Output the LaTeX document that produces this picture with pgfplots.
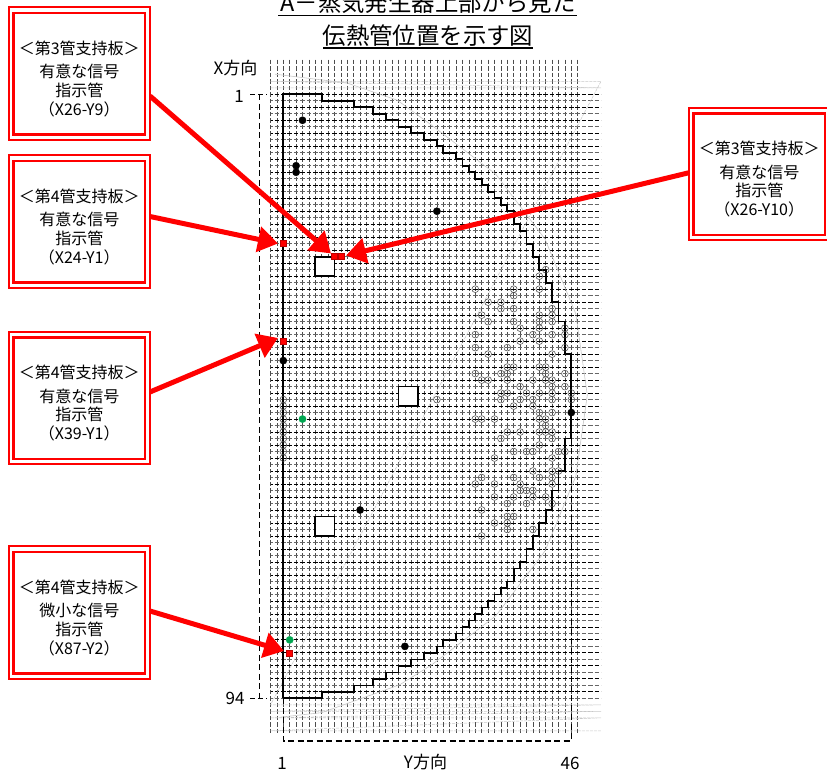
\documentclass[border=0pt]{standalone}
\usepackage{fontspec}
\usepackage{pgfplots}
\pgfplotsset{compat=1.18}
\usetikzlibrary{arrows.meta}
\setmainfont{Noto Sans CJK JP}
\definecolor{sigred}{HTML}{FF0000}
\definecolor{siggreen}{HTML}{00A651}

% box with the double red border, in picture pixels
\newcommand{\sgbox}[7]{%
  \draw[sigred,line width=2pt,fill=white] (#1,#3) rectangle (#2,#3+132.5);
  \draw[sigred,line width=2.6pt] (#1+5.2,#3+5.5) rectangle (#2-5.2,#3+127);
  \node[font=\fontsize{16}{16}\selectfont] at ({(#1+#2)/2},#3+40.5) {#4};
  \node[font=\fontsize{16}{16}\selectfont] at ({(#1+#2)/2},#3+64) {#5};
  \node[font=\fontsize{16}{16}\selectfont] at ({(#1+#2)/2},#3+82.5) {#6};
  \node[font=\fontsize{16}{16}\selectfont] at ({(#1+#2)/2},#3+101.5) {#7};
}

\begin{document}
\begin{tikzpicture}[x=1pt,y=1pt]
\useasboundingbox (0,0) rectangle (827,773);

\begin{axis}[
    at={(270.5pt,39pt)},
    anchor=south west,
    scale only axis,
    width=330.5pt,
    height=676pt,
    xmin=-1, xmax=50.64,
    ymin=-4.59, ymax=99.49,
    y dir=reverse,
    clip=false,
    axis line style={draw=none},
    tick style={draw=none},
    xticklabel=\empty,
    yticklabel=\empty,
    xtick={-1,0,...,47},
    ytick={1,3,...,93},
    minor ytick={2,4,...,94},
    grid=both,
    major x grid style={black!70,line width=0.8pt,dash pattern=on 4.5pt off 1.995pt,dash phase=4.9pt},
    major y grid style={black,line width=0.8pt,dash pattern=on 4.6pt off 1.8pt,dash phase=2.3pt},
    minor y grid style={black!60,line width=0.7pt,dash pattern=on 4.6pt off 1.8pt,dash phase=2.3pt},
]

% faint rows outside the tube sheet
\addplot[black!22,line width=0.5pt,dash pattern=on 3pt off 1pt] coordinates {
  (-1,0) (50.64,0) (nan,nan) (-1,-1) (50.64,-1) (nan,nan)
  (-1,95) (50.64,95) (nan,nan) (-1,96) (50.64,96) (nan,nan)
  (-1,97) (50.64,97) (nan,nan) (-1,99) (50.64,99)};

% faint arc behind the outline
\addplot[black!22,line width=0.6pt] coordinates {
  (-0.3,-2.1) (10.95,-0.74) (18.8,1.9) (24.1,5.7) (34.2,13.3) (41.9,23.3)
  (46.7,34.8) (48.5,47.3) (46.7,59.8) (41.9,71.3) (34.2,81.3) (24.1,88.9)
  (19.2,91.9) (7,96.2) (0.5,96.9)};

% dashed frame and tick dashes
\addplot[black,line width=1.1pt,dash pattern=on 6pt off 3.5pt] coordinates {(-2.69,1) (-2.69,94)};
\addplot[black,line width=1.1pt,dash pattern=on 5pt off 3pt] coordinates {(-4.2,1) (-1.55,1)};
\addplot[black,line width=1.1pt,dash pattern=on 5pt off 3pt] coordinates {(-4.2,94) (-1.55,94)};
\addplot[black,line width=1.1pt,dash pattern=on 6pt off 3.5pt] coordinates {(1,94) (1,100.56) (46,100.56) (46,54)};

% tube sheet outline
\addplot[black,line width=1.7pt] coordinates {
  (1,94) (1,1) (7,1) (7,2) (12,2) (12,3) (15,3) (15,4) (17,4) (17,5) (19,5) (19,6)
  (21,6) (21,7) (23,7) (23,8) (25,8) (25,9) (26,9) (26,10) (28,10) (28,11) (29,11)
  (29,12) (30,12) (30,13) (31,13) (31,14) (32,14) (32,15) (33,15) (33,16) (34,16)
  (34,17) (35,17) (35,18) (36,18) (36,19) (37,19) (37,21) (38,21) (38,22) (39,22)
  (39,24) (40,24) (40,26) (41,26) (41,28) (42,28) (42,30) (43,30) (43,33) (44,33)
  (44,36) (45,36) (45,41) (46,41) (46,54) (45,54) (45,59) (44,59) (44,62) (43,62)
  (43,65) (42,65) (42,67) (41,67) (41,69) (40,69) (40,71) (39,71) (39,73) (38,73)
  (38,74) (37,74) (37,76) (36,76) (36,77) (35,77) (35,78) (34,78) (34,79) (33,79)
  (33,80) (32,80) (32,81) (31,81) (31,82) (30,82) (30,83) (29,83) (29,84) (28,84)
  (28,85) (26,85) (26,86) (25,86) (25,87) (23,87) (23,88) (21,88) (21,89) (19,89)
  (19,90) (17,90) (17,91) (15,91) (15,92) (12,92) (12,93) (7,93) (7,94) (1,94)};

% stay rods
\addplot[black,line width=1.7pt,fill=white] coordinates {(6,26) (9,26) (9,29) (6,29) (6,26)} -- cycle;
\addplot[black,line width=1.7pt,fill=white] coordinates {(19,46) (22,46) (22,49) (19,49) (19,46)} -- cycle;
\addplot[black,line width=1.7pt,fill=white] coordinates {(6,66) (9,66) (9,69) (6,69) (6,66)} -- cycle;

% grey tubes
\addplot[only marks,mark=o,mark size=3.4pt,mark options={black!72,line width=0.55pt}] coordinates {
  (42,28) (41,29) (31,31) (37,31) (41,31) (37,32) (33,33) (35,33) (35,34) (37,34) (43,34)
  (32,35) (41,35) (43,35) (33,36) (37,36) (41,36) (43,36) (38,37) (41,37) (45,37)
  (31,38) (40,38) (43,38) (45,38) (38,39) (41,39) (31,40) (36,40) (45,40) (33,41) (43,41)
  (36,43) (37,43) (41,43) (42,43) (31,44) (35,44) (36,44) (42,44) (45,44)
  (32,45) (33,45) (36,45) (40,45) (42,45) (43,45) (38,46) (43,46) (45,46)
  (35,47) (36,47) (39,47) (41,47) (43,47) (46,47)
  (25,48) (35,48) (38,48) (40,48) (43,48) (46,48) (37,49) (40,49) (41,50) (43,50)
  (31,51) (32,51) (34,51) (41,51) (42,51) (42,52) (36,53) (38,53) (41,53) (42,53) (43,53)
  (35,54) (43,54) (41,55) (37,56) (39,56) (40,56) (44,56) (45,56) (34,57) (43,57)
  (40,59) (43,59) (44,59) (32,60) (37,60) (41,60) (43,60) (31,61) (34,61) (38,61) (43,61)
  (38,62) (39,62) (40,62) (34,63) (37,63) (40,63) (42,63) (36,64) (39,64) (43,64)
  (32,65) (36,66) (37,66) (34,67) (36,67) (36,68) (40,68) (32,69)
  (1,48) (1,49) (1,50) (1,51) (1,52) (1,53) (1,54) (1,55) (1,56) (1,57)};

% black tubes
\addplot[only marks,mark=*,mark size=3.6pt,mark options={black}] coordinates {
  (4,5) (3,12) (3,13) (25,19) (1,42) (46,50) (13,65) (20,86)};
% green tubes
\addplot[only marks,mark=*,mark size=3.6pt,mark options={siggreen,draw=siggreen}] coordinates {(4,51) (2,85)};
% red tubes, the indicated ones
\addplot[only marks,mark=square*,mark size=3pt,mark options={fill=sigred,draw=sigred!75!black,line width=0.5pt}] coordinates {
  (1,24) (9,26) (10,26) (1,39) (2,87)};

\end{axis}

% annotations, in pixels of the picture with y going down
\begin{scope}[y=-1pt,x=1pt,yshift=773pt]
\node[font=\fontsize{23.4}{23.4}\selectfont] at (428,3) {A－蒸気発生器上部から見た};
\draw[black,line width=1.6pt] (278,15.5) -- (577,15.5);
\node[font=\fontsize{23.4}{23.4}\selectfont] at (428,36) {伝熱管位置を示す図};
\draw[black,line width=1.6pt] (323,48) -- (533,48);

\node[font=\fontsize{17}{17}\selectfont] at (235.5,68) {X方向};
\node[font=\fontsize{17}{17}\selectfont] at (425.5,762.5) {Y方向};
\node[font=\fontsize{17}{17}\selectfont] at (239,96) {1};
\node[font=\fontsize{17}{17}\selectfont] at (235,698.5) {94};
\node[font=\fontsize{17}{17}\selectfont] at (282,763.5) {1};
\node[font=\fontsize{17}{17}\selectfont] at (570,763.5) {46};

\tikzset{redarrow/.style={sigred,line width=5pt,-{Triangle[length=20pt,width=25pt]}}}
\draw[redarrow] (150,96) -- (331,253.5);
\draw[redarrow] (150,216.5) -- (278,243.5);
\draw[redarrow] (150,392) -- (278,338);
\draw[redarrow] (150,611) -- (284,651);
\draw[redarrow] (692,172) -- (346,255.5);

\sgbox{8.5}{150}{7.5}{＜第3管支持板＞}{有意な信号}{指示管}{（X26-Y9）}
\sgbox{8.5}{150}{155.5}{＜第4管支持板＞}{有意な信号}{指示管}{（X24-Y1）}
\sgbox{8.5}{150}{332}{＜第4管支持板＞}{有意な信号}{指示管}{（X39-Y1）}
\sgbox{8.5}{150}{546.5}{＜第4管支持板＞}{微小な信号}{指示管}{（X87-Y2）}
\sgbox{688.5}{830}{108}{＜第3管支持板＞}{有意な信号}{指示管}{（X26-Y10）}
\end{scope}
\end{tikzpicture}
\end{document}
